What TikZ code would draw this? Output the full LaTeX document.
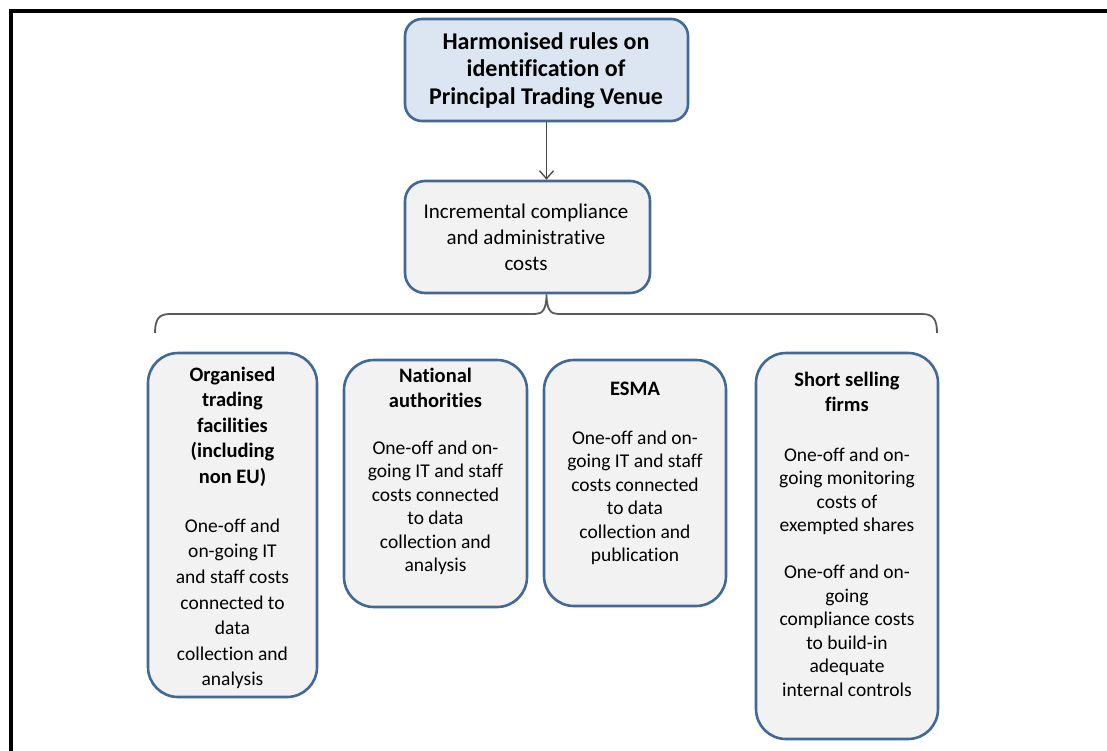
\documentclass[tikz,border=0pt]{standalone}
\usepackage{fontspec}
\setmainfont{Carlito}[Ligatures={NoCommon,NoContextual}]
\usetikzlibrary{arrows.meta}
\definecolor{boxline}{RGB}{66,104,152}
\definecolor{topfill}{RGB}{220,230,242}
\definecolor{boxfill}{RGB}{242,242,242}
\definecolor{linkgray}{RGB}{70,70,70}
\definecolor{bracegray}{RGB}{90,90,90}
\newcommand{\firstst}{\rule{0pt}{20pt}}
\begin{document}
\begin{tikzpicture}[x=1pt,y=-1pt,
  box/.style={draw=boxline, line width=2.6pt, fill=boxfill, inner sep=0pt},
  ttl/.style={anchor=north, align=center, inner sep=0pt, font=\fontsize{20.5}{25.5}\selectfont\bfseries},
  bdy/.style={anchor=north, align=center, inner sep=0pt, font=\fontsize{19.5}{23.5}\selectfont},
  conn/.style={draw=linkgray, line width=1.3pt},
  bracestyle/.style={draw=bracegray, line width=1.8pt}
]
\useasboundingbox (0,0) rectangle (1107,751);
\fill[white] (0,0) rectangle (1107,751);
% frame
\draw[line width=4pt, line join=miter] (11,770) -- (11,11) -- (1120,11);

% top box
\node[box, fill=topfill, rounded corners=17pt, minimum width=283pt, minimum height=102pt] (top) at (546.5,70) {};
\node[anchor=north, align=center, inner sep=0pt, font=\fontsize{24}{27.5}\selectfont\bfseries] (toptxt) at (546,29)
  {\firstst Harmonised rules on\\identification of\\Principal Trading Venue};

% middle box
\node[box, rounded corners=20pt, minimum width=245pt, minimum height=112pt] (mid) at (527.5,237) {};
\node[anchor=north, align=center, inner sep=0pt, font=\fontsize{21}{26}\selectfont] (midtxt) at (526,198)
  {\firstst Incremental compliance\\and administrative\\costs};

\draw[conn, -{Straight Barb[length=8pt,width=14pt]}] (top.south) -- (top.south |- mid.north);

% brace
\coordinate (tip) at (top.south |- mid.south);
\coordinate (bl) at (155,333);
\coordinate (br) at (937,333);
\draw[bracestyle] (bl) .. controls (155,319) and (159,314) .. (170,314) -- (535,314)
  .. controls (542,314) and (546.5,310) .. (tip)
  .. controls (546.5,310) and (551,314) .. (558,314) -- (922,314)
  .. controls (933,314) and (937,319) .. (br);

% organised trading facilities
\node[box, rounded corners=30pt, minimum width=169pt, minimum height=344pt] (org) at (232.5,525) {};
\node[ttl] (orgt) at (232.5,361) {\firstst Organised\\trading\\facilities\\(including\\non EU)};
\node[bdy, font=\fontsize{19.5}{25.6}\selectfont] (orgb) at (232.5,512) {\firstst One-off and\\on-going IT\\and staff costs\\connected to\\data\\collection and\\analysis};

% national authorities
\node[box, rounded corners=30pt, minimum width=183pt, minimum height=247pt] (nat) at (435.5,483.5) {};
\node[ttl] (natt) at (435.5,362) {\firstst National\\authorities};
\node[bdy] (natb) at (435.5,434) {\firstst One-off and on-\\going IT and staff\\costs connected\\to data\\collection and\\analysis};

% ESMA
\node[box, rounded corners=30pt, minimum width=182pt, minimum height=246pt] (esma) at (635,483) {};
\node[ttl] (esmat) at (635,375) {\firstst ESMA};
\node[bdy] (esmab) at (635,424) {\firstst One-off and on-\\going IT and staff\\costs connected\\to data\\collection and\\publication};

% short selling firms
\node[box, rounded corners=30pt, minimum width=182pt, minimum height=386pt] (short) at (847,546) {};
\node[ttl] (shortt) at (847,366) {\firstst Short selling\\firms};
\node[bdy] (shortb) at (847,441) {\firstst One-off and on-\\going monitoring\\costs of\\exempted shares\\[23.5pt]One-off and on-\\going\\compliance costs\\to build-in\\adequate\\internal controls};
\end{tikzpicture}
\end{document}
